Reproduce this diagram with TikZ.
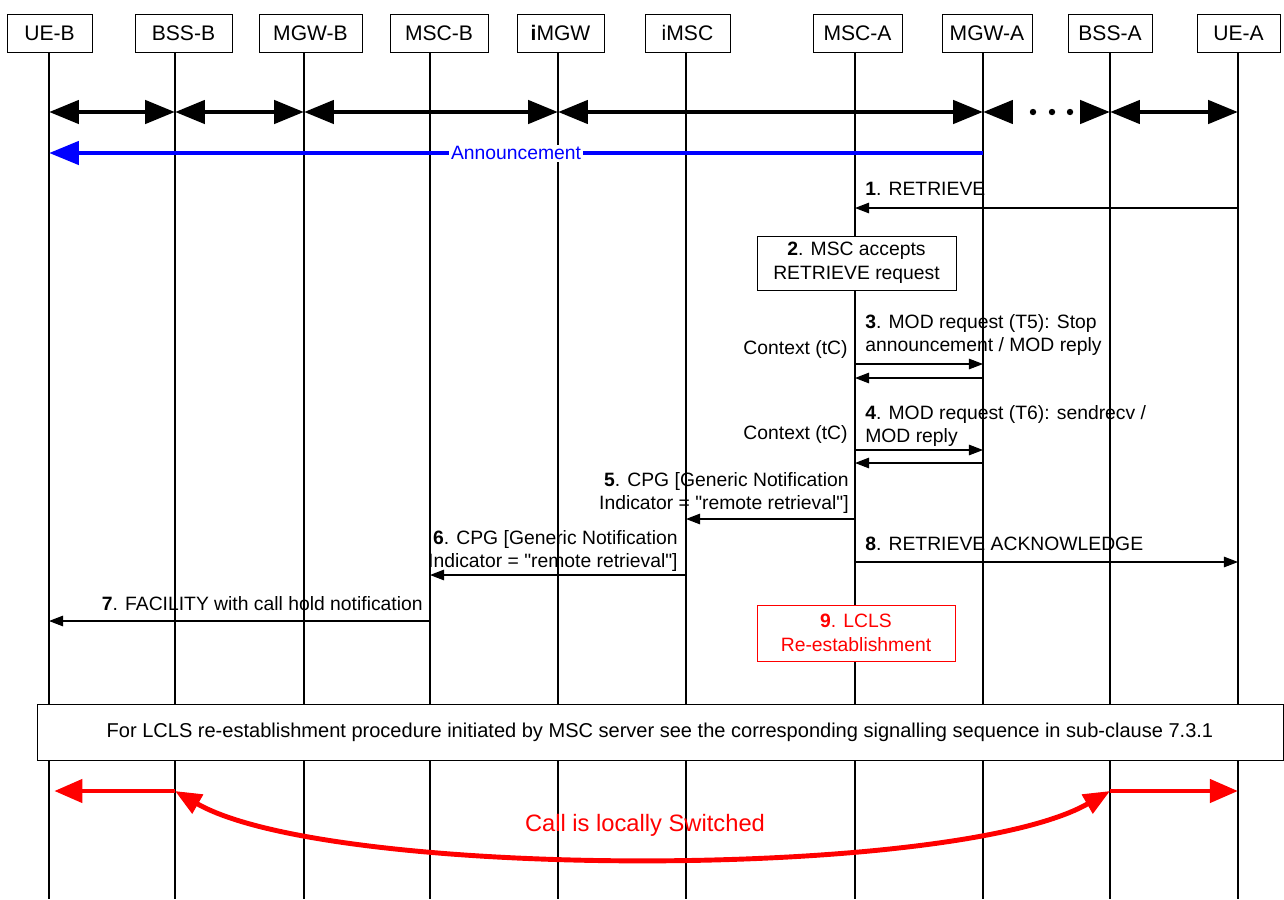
\documentclass[tikz,border=0pt]{standalone}
\usepackage{fontspec}
\setmainfont{Liberation Sans}
\usetikzlibrary{arrows.meta}

\begin{document}
\begin{tikzpicture}[x=0.02cm, y=-0.02cm,
  entity/.style={draw, fill=white, minimum height=0.76cm, inner sep=0pt, font=\fontsize{12}{14}\selectfont},
  lifeline/.style={line width=0.6pt},
  bearer/.style={line width=2.8pt, {Triangle[length=17pt,width=13pt]}-{Triangle[length=17pt,width=13pt]}},
  bearertip/.style={line width=2.8pt, -{Triangle[length=17pt,width=13pt]}},
  msg/.style={line width=0.6pt, -{Triangle[length=8pt,width=6pt]}},
  lbl/.style={inner sep=0pt, align=left, font=\fontsize{11}{13.6}\selectfont},
  step box/.style={draw, fill=white, inner sep=0pt, align=center, font=\fontsize{11}{13.6}\selectfont},
  local/.style={red, line width=2.8pt, -{Triangle[length=16pt,width=13pt]}}]
\useasboundingbox (0,0) rectangle (1284,899);

% entities and lifelines
\foreach \name/\bx/\w/\lx/\txt in {ueb/49.5/85/49/UE-B, bssb/183.5/97/175/BSS-B,
    mgwb/310.5/103/304/MGW-B, mscb/439/98/430/MSC-B, imgw/560.5/87/558/{\textbf{i}MGW},
    imsc/687.5/85/686/iMSC, msca/857.5/89/855/MSC-A, mgwa/987/90/983/MGW-A,
    bssa/1110/84/1110/BSS-A, uea/1238.5/83/1238/UE-A} {
  \coordinate (\name) at (\lx,52);
  \draw[lifeline] (\name) -- (\name |- 0,899);
  \node[entity, minimum width=\w*0.02cm] (h\name) at (\bx,33) {\txt};
}

% bearers
\draw[bearer] (ueb |- 0,112) -- (bssb |- 0,112);
\draw[bearer] (bssb |- 0,112) -- (mgwb |- 0,112);
\draw[bearer] (mgwb |- 0,112) -- (imgw |- 0,112);
\draw[bearer] (imgw |- 0,112) -- (mgwa |- 0,112);
\draw[bearertip] (mgwa |- 0,112) ++(30,0) -- (mgwa |- 0,112);
\draw[bearertip] (bssa |- 0,112) ++(-30,0) -- (bssa |- 0,112);
\foreach \dx in {1033,1052,1070}
  \fill (\dx,112) circle (3.2);
\draw[bearer] (bssa |- 0,112) -- (uea |- 0,112);

\draw[blue, line width=2.8pt, -{Triangle[length=17pt,width=13pt]}] (mgwa |- 0,153) -- (ueb |- 0,153)
  node[pos=0.5, fill=white, inner sep=1pt, text=blue, font=\fontsize{11}{13}\selectfont] (ann) {Announcement};

% signalling
\draw[msg] (uea |- 0,208) -- (msca |- 0,208);
\node[lbl, anchor=west] (m1) at (865,189) {\textbf{1}. RETRIEVE};

\node[step box, minimum width=199*0.02cm, minimum height=54*0.02cm] (s2) at (856.5,263)
  {\textbf{2}. MSC accepts\\RETRIEVE request};

\node[lbl, anchor=west] (m3) at (865,335) {\textbf{3}. MOD request (T5): Stop\\announcement / MOD reply};
\node[lbl, anchor=east] (c3) at (848,349) {Context (tC)};
\draw[msg] (msca |- 0,364) -- (mgwa |- 0,364);
\draw[msg] (mgwa |- 0,378) -- (msca |- 0,378);

\node[lbl, anchor=west] (m4) at (865,426) {\textbf{4}. MOD request (T6): sendrecv /\\MOD reply};
\node[lbl, anchor=east] (c4) at (848,434) {Context (tC)};
\draw[msg] (msca |- 0,450) -- (mgwa |- 0,450);
\draw[msg] (mgwa |- 0,463) -- (msca |- 0,463);

\node[lbl, anchor=east, align=right] (m5) at (849,493)
  {\textbf{5}. CPG [Generic Notification\\Indicator = \textquotedbl remote retrieval\textquotedbl]};
\draw[msg] (msca |- 0,519) -- (imsc |- 0,519);

\node[lbl, anchor=west] (m8) at (865,544) {\textbf{8}. RETRIEVE ACKNOWLEDGE};
\draw[msg] (msca |- 0,562) -- (uea |- 0,562);

\node[lbl, anchor=east, align=right] (m6) at (678,551)
  {\textbf{6}. CPG [Generic Notification\\Indicator = \textquotedbl remote retrieval\textquotedbl]};
\draw[msg] (imsc |- 0,575) -- (mscb |- 0,575);

\node[lbl, anchor=east] (m7) at (423,604) {\textbf{7}. FACILITY with call hold notification};
\draw[msg] (mscb |- 0,621) -- (ueb |- 0,621);

\node[step box, draw=red, text=red, minimum width=198*0.02cm, minimum height=56*0.02cm] (s9) at (856,633)
  {\textbf{9}. LCLS\\Re-establishment};

\node[step box, minimum width=1246*0.02cm, minimum height=56*0.02cm, font=\fontsize{11.4}{13}\selectfont] (remark) at (660,732)
  {For LCLS re-establishment procedure initiated by MSC server see the corresponding signalling sequence in sub-clause 7.3.1};

% local switching
\draw[local, shorten >=3] (bssb |- 0,791) -- (ueb |- 0,791);
\draw[local] (bssa |- 0,791) -- (uea |- 0,791);
\draw[red, line width=2.8pt, {Triangle[length=15pt,width=12pt]}-{Triangle[length=15pt,width=12pt]}]
  (bssb |- 0,791) .. controls (330,880) and (955,880) .. (bssa |- 0,791);
\node[text=red, font=\fontsize{13.5}{16}\selectfont] (cls) at (645,825) {Call is locally Switched};
\end{tikzpicture}
\end{document}
